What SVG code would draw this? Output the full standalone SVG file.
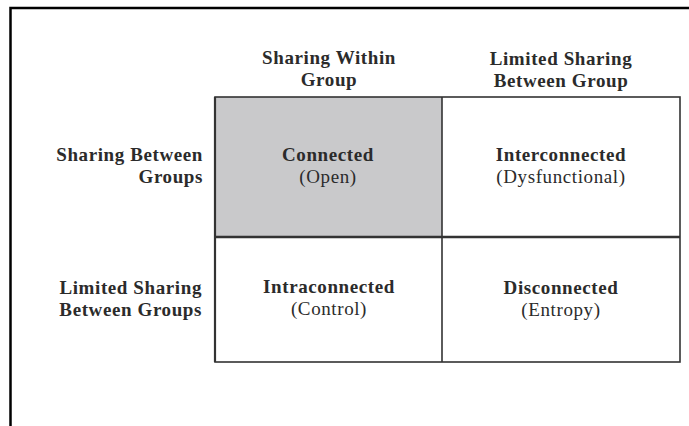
<svg xmlns="http://www.w3.org/2000/svg" width="689" height="426" viewBox="0 0 689 426">
<style>
text{font-family:"Liberation Serif","Times New Roman",serif;font-size:19px;letter-spacing:0.6px;fill:#2b2b2b}
.b{font-weight:bold}
.c{text-anchor:middle}
.r{text-anchor:end}
.grid{stroke:#333;fill:none}
</style>
<rect width="689" height="426" fill="#fff"/>
<g id="frame"><path d="M10.5 426 V8 H689" fill="none" stroke="#000" stroke-width="2.5"/></g>
<g id="cell-connected"><rect x="215" y="97" width="227" height="140" fill="#c9c9cb"/>
<text class="b c" x="328" y="161">Connected</text><text class="c" x="328" y="183">(Open)</text></g>
<g id="cell-interconnected"><text class="b c" x="561" y="161">Interconnected</text><text class="c" x="561" y="183">(Dysfunctional)</text></g>
<g id="cell-intraconnected"><text class="b c" x="329" y="293">Intraconnected</text><text class="c" x="329" y="315">(Control)</text></g>
<g id="cell-disconnected"><text class="b c" x="561" y="294">Disconnected</text><text class="c" x="561" y="316">(Entropy)</text></g>
<g id="grid">
<rect class="grid" x="215" y="97" width="465" height="265" stroke-width="1.6"/>
<line class="grid" x1="215" y1="97" x2="215" y2="362" stroke-width="2.2"/>
<line class="grid" x1="442" y1="97" x2="442" y2="362" stroke-width="1.6"/>
<line class="grid" x1="215" y1="237" x2="680" y2="237" stroke-width="2.6"/>
</g>
<g id="col-header-1"><text class="b c" x="329" y="64">Sharing Within</text><text class="b c" x="329" y="86">Group</text></g>
<g id="col-header-2"><text class="b c" x="561" y="65">Limited Sharing</text><text class="b c" x="561" y="87">Between Group</text></g>
<g id="row-header-1"><text class="b r" x="203" y="161">Sharing Between</text><text class="b r" x="203" y="183">Groups</text></g>
<g id="row-header-2"><text class="b r" x="202" y="294">Limited Sharing</text><text class="b r" x="202" y="316">Between Groups</text></g>
</svg>
